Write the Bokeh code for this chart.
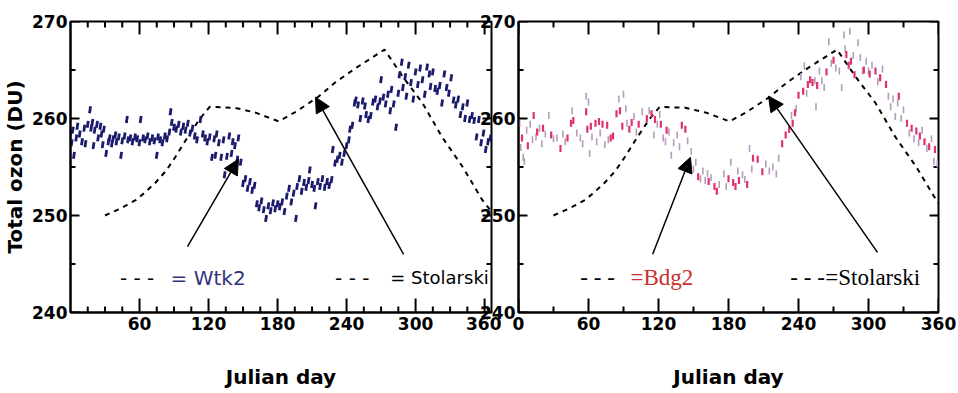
import numpy as np
from bokeh.plotting import figure
from bokeh.layouts import row
from bokeh.models import Range1d, FixedTicker, LinearAxis, Label, Arrow, NormalHead
from bokeh.embed import file_html
from bokeh.resources import INLINE

# ---------------- data ----------------
wtk2_day = [0, 1, 2, 3, 5, 6, 8, 10, 12, 13,
            15, 17, 18, 19, 20, 21, 23, 24, 26, 27,
            28, 29, 31, 33, 34, 36, 37, 39, 40, 42,
            44, 45, 47, 49, 50, 52, 54, 56, 58, 60,
            61, 63, 65, 67, 69, 71, 73, 75, 76, 78,
            80, 82, 84, 86, 87, 88, 90, 92, 94, 96,
            98, 100, 102, 104, 106, 108, 110, 113, 115, 117,
            119, 121, 123, 125, 126, 127, 129, 131, 133, 134,
            136, 138, 140, 141, 143, 145, 146, 148, 150, 152,
            154, 156, 158, 160, 162, 164, 166, 168, 170, 172,
            174, 176, 178, 180, 182, 184, 186, 188, 190, 192,
            194, 196, 197, 199, 201, 203, 205, 207, 208, 210,
            212, 213, 215, 217, 219, 221, 223, 225, 227, 228,
            230, 232, 234, 236, 238, 240, 242, 243, 245, 247,
            248, 250, 252, 254, 256, 257, 259, 261, 263, 265,
            267, 269, 270, 272, 274, 276, 278, 279, 281, 283,
            285, 286, 288, 289, 291, 292, 294, 296, 298, 300,
            302, 304, 306, 308, 310, 312, 313, 315, 317, 319,
            321, 323, 325, 327, 329, 331, 333, 335, 337, 339,
            341, 343, 345, 347, 349, 351, 353, 355, 357, 359,
            361, 363, 365]
wtk2_du = [258.5, 257.5, 258.8, 256.2, 258.0, 259.2, 258.4, 257.6, 259.0, 257.4,
           259.4, 260.9, 259.0, 259.6, 257.2, 258.8, 259.4, 258.0, 259.2, 258.4,
           257.3, 258.9, 256.4, 257.6, 258.0, 257.4, 257.9, 258.3, 257.6, 258.1,
           256.2, 257.7, 258.2, 259.9, 257.8, 258.0, 257.6, 258.1, 257.9, 257.5,
           259.9, 258.0, 257.8, 258.2, 257.6, 258.0, 257.7, 256.2, 258.1, 257.8,
           257.5, 258.2, 257.9, 258.6, 260.7, 259.6, 259.1, 258.9, 259.4, 258.6,
           259.2, 258.8, 259.5, 258.5, 259.0, 258.2, 257.8, 259.9, 258.4, 258.0,
           257.6, 258.1, 256.0, 257.9, 256.2, 258.4, 257.5, 256.0, 257.8, 254.2,
           256.1, 258.2, 256.4, 257.6, 257.2, 255.8, 258.0, 255.5, 253.3, 253.8,
           252.8, 253.5, 252.6, 253.1, 251.2, 250.8, 251.5, 250.6, 249.7, 251.0,
           250.5, 251.3, 250.7, 251.2, 250.9, 251.4, 250.4, 252.0, 252.8, 251.4,
           252.3, 249.7, 253.0, 253.8, 252.5, 253.4, 252.9, 253.6, 254.7, 253.2,
           252.8, 251.0, 253.5, 253.0, 253.8, 252.9, 253.5, 253.1, 253.7, 256.8,
           255.4, 255.8, 256.2, 255.5, 256.4, 257.2, 257.8, 258.9, 259.3, 261.6,
           261.9, 261.4, 260.0, 261.8, 261.3, 260.4, 259.9, 260.3, 261.7, 262.0,
           261.2, 261.8, 264.0, 262.2, 261.5, 262.5, 260.8, 263.0, 261.5, 259.1,
           262.6, 264.5, 265.8, 263.2, 264.3, 262.3, 265.5, 263.7, 262.0, 264.8,
           263.5, 265.2, 264.0, 262.5, 265.3, 264.6, 263.3, 264.8, 263.1, 262.8,
           263.4, 261.6, 264.6, 263.2, 262.6, 264.2, 261.9, 261.4, 262.0, 260.4,
           261.2, 260.0, 261.6, 259.9, 260.3, 259.8, 258.1, 259.9, 257.5, 258.5,
           256.8, 257.6, 258.0]

bdg2_pink_day = [3, 8, 13, 16, 21, 28, 36, 42, 45, 47,
                 58, 59, 62, 66, 69, 72, 76, 79, 81, 84,
                 87, 89, 95, 97, 103, 110, 114, 117, 122, 127,
                 140, 143, 154, 163, 168, 170, 180, 184, 186, 189,
                 196, 201, 205, 209, 226, 229, 232, 235, 237, 240,
                 244, 248, 250, 252, 256, 264, 270, 281, 283, 285,
                 288, 296, 301, 306, 310, 315, 326, 333, 337, 341,
                 344, 348, 352, 357]
bdg2_pink_du = [258.0, 257.2, 260.3, 258.6, 259.0, 258.3, 256.9, 258.0, 259.5, 259.8,
                260.7, 258.9, 259.2, 259.5, 259.7, 259.4, 259.3, 258.0, 258.2, 260.5,
                260.8, 259.2, 258.9, 259.6, 259.4, 260.0, 260.5, 259.9, 259.4, 258.8,
                259.3, 258.9, 254.0, 253.5, 253.0, 252.5, 253.8, 253.4, 253.0, 253.6,
                253.2, 255.9, 255.8, 254.5, 257.4, 258.3, 258.9, 259.5, 260.6, 262.4,
                262.8, 263.5, 264.0, 263.7, 263.4, 264.8, 266.0, 266.6, 265.5, 265.9,
                264.5, 265.0, 264.6, 264.9, 264.2, 263.5, 262.3, 259.5, 259.0, 258.7,
                258.2, 257.6, 257.1, 256.8]

bdg2_grey_day = [1, 2, 4, 5, 7, 10, 12, 15, 18, 20,
                 23, 26, 30, 33, 38, 40, 46, 50, 53, 55,
                 58, 60, 61, 63, 67, 70, 74, 77, 86, 90,
                 92, 93, 99, 101, 106, 112, 116, 119, 121, 124,
                 126, 129, 131, 133, 136, 138, 145, 148, 150, 152,
                 156, 158, 160, 162, 165, 172, 176, 178, 182, 188,
                 192, 194, 198, 200, 212, 215, 218, 221, 223, 234,
                 238, 242, 245, 247, 254, 255, 258, 260, 262, 266,
                 268, 272, 275, 277, 279, 280, 284, 287, 291, 293,
                 295, 298, 300, 303, 308, 312, 317, 319, 321, 323,
                 325, 328, 330, 335, 339, 343, 346, 350, 354, 356,
                 359]
bdg2_grey_du = [259.5, 257.0, 256.0, 255.6, 258.8, 259.4, 257.8, 258.1, 259.0, 257.4,
                258.4, 260.3, 257.9, 258.0, 258.4, 257.6, 260.8, 258.5, 258.0, 257.4,
                262.3, 261.7, 256.4, 258.1, 257.6, 258.5, 257.3, 257.8, 262.0, 262.5,
                261.0, 259.5, 260.2, 258.6, 260.7, 260.8, 258.3, 259.4, 260.4, 258.0,
                257.6, 258.6, 256.2, 257.5, 258.3, 257.1, 257.7, 256.6, 254.8, 255.5,
                253.8, 254.6, 253.6, 254.3, 253.9, 253.2, 254.3, 253.0, 255.5, 254.6,
                254.2, 253.7, 256.9, 254.8, 255.3, 254.6, 255.0, 254.3, 255.9, 260.3,
                261.0, 264.3, 265.4, 262.6, 263.9, 261.2, 264.9, 263.9, 263.2, 267.9,
                265.7, 265.2, 264.9, 263.2, 268.6, 267.2, 269.0, 266.5, 267.8, 266.3,
                264.9, 265.9, 264.9, 265.5, 263.8, 265.1, 262.3, 261.2, 262.0, 260.2,
                261.6, 260.0, 260.9, 258.5, 257.9, 257.5, 258.8, 256.9, 257.9, 255.6,
                255.3]

stol_day = [30, 43, 57, 65, 74, 83, 91, 102, 112, 121, 143, 161,
            181, 196, 215, 230, 248, 273, 289, 306, 323, 341, 358, 366]
stol_du = [250.0, 250.7, 251.6, 252.4, 253.4, 254.6, 256.0, 258.1, 259.9, 261.2, 261.1, 260.6,
           259.7, 260.7, 262.2, 263.7, 265.2, 267.1, 264.3, 261.6, 258.1, 255.0, 251.6, 250.4]

y_ticks = [240, 250, 260, 270]
y_minor = [245, 255, 265]
left_x_ticks = [60, 120, 180, 240, 300, 360]
left_x_minor = [t for t in range(0, 367, 15) if t % 60 != 0]
right_x_ticks = [0, 60, 120, 180, 240, 300, 360]
right_x_minor = [30, 90, 150, 210, 270, 330]

NAVY = "#1b1b6e"
PINK = "#e0306e"
GREY = "#b49cbc"
TICK_FONT = "DejaVu Sans"
FRAME_H = 291


def style_axis(ax, standoff=3):
    ax.axis_line_width = 2
    ax.axis_line_color = "black"
    ax.major_tick_in = 0
    ax.major_tick_out = 0
    ax.minor_tick_in = 0
    ax.minor_tick_out = 0
    ax.major_tick_line_color = None
    ax.minor_tick_line_color = None
    ax.major_label_text_font = TICK_FONT
    ax.major_label_text_font_style = "bold"
    ax.major_label_text_font_size = "17px"
    ax.major_label_text_color = "black"
    ax.major_label_standoff = standoff


def add_inward_ticks(p, frame_w, x_ticks, x_minor):
    """Inward tick marks on all four frame edges, drawn fully inside the frame
    (each mark is centred half its length in from the edge)."""
    x0, x1 = p.x_range.start, p.x_range.end
    y0, y1 = p.y_range.start, p.y_range.end
    dx = (x1 - x0) / frame_w      # data units per pixel
    dy = (y1 - y0) / FRAME_H
    kw = dict(marker="dash", line_color="black", line_width=2)
    # bottom and top edges
    for yy, sgn, big in ((y0, 1, 14), (y1, -1, 13)):
        p.scatter(x_ticks, [yy + sgn * dy * big / 2] * len(x_ticks), size=big,
                  angle=np.pi / 2, **kw)
        p.scatter(x_minor, [yy + sgn * dy * 3] * len(x_minor), size=6,
                  angle=np.pi / 2, **kw)
    # left and right edges
    for xx, sgn in ((x0, 1), (x1, -1)):
        p.scatter([xx + sgn * dx * 4.5] * len(y_ticks), y_ticks, size=9, angle=0, **kw)
        p.scatter([xx + sgn * dx * 2.5] * len(y_minor), y_minor, size=5, angle=0, **kw)


def make_panel(frame_w, x_end, x_ticks, x_minor, left_border, right_border, ylabel):
    p = figure(frame_width=frame_w, frame_height=FRAME_H, output_backend="svg",
               toolbar_location=None,
               x_range=Range1d(0, x_end), y_range=Range1d(240, 270),
               min_border_left=left_border, min_border_right=right_border,
               min_border_top=21, min_border_bottom=80,
               x_axis_location=None, y_axis_location=None)
    p.background_fill_color = None
    p.border_fill_color = None
    p.outline_line_color = "black"
    p.outline_line_width = 2
    p.xgrid.visible = False
    p.ygrid.visible = False

    xb = LinearAxis(ticker=FixedTicker(ticks=x_ticks, minor_ticks=x_minor))
    style_axis(xb, standoff=4)
    xb.axis_label = "Julian day"
    xb.axis_label_text_font = TICK_FONT
    xb.axis_label_text_font_style = "bold"
    xb.axis_label_text_font_size = "20px"
    xb.axis_label_text_color = "black"
    xb.axis_label_standoff = 32
    p.add_layout(xb, "below")

    yl = LinearAxis(ticker=FixedTicker(ticks=y_ticks, minor_ticks=y_minor))
    style_axis(yl)
    if ylabel:
        yl.axis_label = ylabel
        yl.axis_label_text_font = TICK_FONT
        yl.axis_label_text_font_style = "bold"
        yl.axis_label_text_font_size = "20px"
        yl.axis_label_text_color = "black"
        yl.axis_label_standoff = 2
    p.add_layout(yl, "left")

    add_inward_ticks(p, frame_w, x_ticks, x_minor)
    return p


# ---------------- left panel (Wtk2) ----------------
p1 = make_panel(421, 366, left_x_ticks, left_x_minor, 62, 10, "Total ozon (DU)")
p1.line(stol_day, stol_du, line_color="black", line_width=2, line_dash="5 5")
p1.scatter(wtk2_day, wtk2_du, marker="dash", size=7, angle=np.pi / 2 - 0.15,
           line_color=NAVY, line_width=2.8)
for xs, ys, xe, ye in [(101.7, 246.8, 146, 255.8), (289.6, 246.0, 213, 262.2)]:
    p1.add_layout(Arrow(end=NormalHead(size=15, fill_color="black", line_color="black"),
                        x_start=xs, y_start=ys, x_end=xe, y_end=ye,
                        line_width=1.5, line_color="black"))
p1.add_layout(Label(x=43, y=243.6, text="- - -", text_font="DejaVu Sans",
                    text_font_size="20px", text_color="black", text_baseline="middle"))
p1.add_layout(Label(x=87, y=243.6, text="= Wtk2", text_font="DejaVu Sans",
                    text_font_size="20px", text_color="#34347a", text_baseline="middle"))
p1.add_layout(Label(x=230, y=243.6, text="- - -", text_font="DejaVu Sans",
                    text_font_size="20px", text_color="black", text_baseline="middle"))
p1.add_layout(Label(x=278, y=243.6, text="= Stolarski", text_font="DejaVu Sans",
                    text_font_size="18px", text_color="black", text_baseline="middle"))

# ---------------- right panel (Bdg2) ----------------
p2 = make_panel(420, 360, right_x_ticks, right_x_minor, 44, 20, None)
p2.margin = (0, 0, 0, -27)
p2.line(stol_day, stol_du, line_color="black", line_width=2, line_dash="5 5")
p2.scatter(bdg2_grey_day, bdg2_grey_du, marker="dash", size=7, angle=np.pi / 2,
           line_color=GREY, line_width=1.6)
p2.scatter(bdg2_pink_day, bdg2_pink_du, marker="dash", size=7, angle=np.pi / 2,
           line_color=PINK, line_width=2.2)
for xs, ys, xe, ye in [(115, 246.0, 147.4, 256.0), (307.7, 246.2, 214.3, 262.3)]:
    p2.add_layout(Arrow(end=NormalHead(size=15, fill_color="black", line_color="black"),
                        x_start=xs, y_start=ys, x_end=xe, y_end=ye,
                        line_width=1.5, line_color="black"))
p2.add_layout(Label(x=53, y=243.6, text="- - -", text_font="Liberation Serif",
                    text_font_size="23px", text_color="black", text_baseline="middle"))
p2.add_layout(Label(x=96, y=243.6, text="=Bdg2", text_font="Liberation Serif",
                    text_font_size="23px", text_color="#c8302c", text_baseline="middle"))
p2.add_layout(Label(x=233, y=243.6, text="- - -", text_font="Liberation Serif",
                    text_font_size="23px", text_color="black", text_baseline="middle"))
p2.add_layout(Label(x=263, y=243.6, text="=Stolarski", text_font="Liberation Serif",
                    text_font_size="23px", text_color="black", text_baseline="middle"))

layout = row(p1, p2)
open("out.html", "w").write(file_html(layout, INLINE))
